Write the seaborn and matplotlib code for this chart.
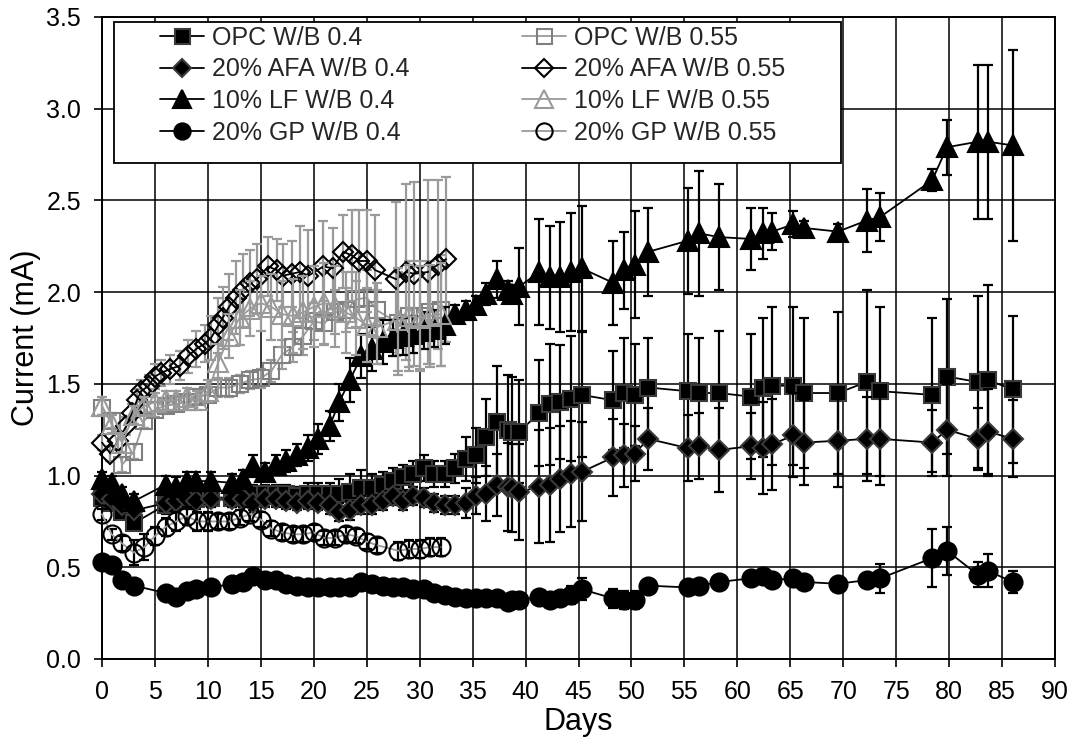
import numpy as np
import matplotlib
matplotlib.use("Agg")
import matplotlib.pyplot as plt
import seaborn as sns
from matplotlib.lines import Line2D
from matplotlib.patches import Rectangle

# ---------------- data ----------------
days_04 = [0.0, 0.9, 1.9, 3.0, 6.0, 7.0, 8.0, 8.9, 10.3, 12.3,
           13.3, 14.3, 15.4, 16.4, 17.4, 18.4, 19.5, 20.4, 21.5, 22.4,
           23.4, 24.5, 25.5, 26.5, 27.5, 28.4, 29.4, 30.4, 31.4, 32.4,
           33.3, 34.4, 35.3, 36.3, 37.3, 38.3, 38.7, 39.4, 41.3, 42.3,
           43.3, 44.3, 45.3, 48.3, 49.3, 50.3, 51.6, 55.3, 56.4, 58.3,
           61.3, 62.4, 63.3, 65.3, 66.3, 69.5, 72.2, 73.5, 78.4, 79.8,
           82.7, 83.7, 86.0]

opc_04 = [0.88, 0.85, 0.80, 0.74, 0.84, 0.86, 0.87, 0.87, 0.88, 0.88,
          0.89, 0.90, 0.90, 0.90, 0.90, 0.89, 0.90, 0.90, 0.90, 0.90,
          0.91, 0.93, 0.93, 0.95, 0.97, 0.99, 1.01, 1.04, 1.01, 1.01,
          1.04, 1.09, 1.11, 1.21, 1.29, 1.25, 1.24, 1.24, 1.34, 1.39,
          1.40, 1.42, 1.44, 1.41, 1.45, 1.44, 1.48, 1.46, 1.45, 1.45,
          1.43, 1.48, 1.49, 1.49, 1.45, 1.45, 1.51, 1.46, 1.44, 1.54,
          1.51, 1.52, 1.47]
opc_04_err = [0.03, 0.03, 0.03, 0.03, 0.05, 0.05, 0.05, 0.05, 0.05, 0.05,
              0.05, 0.05, 0.05, 0.05, 0.05, 0.05, 0.06, 0.06, 0.06, 0.08,
              0.10, 0.10, 0.08, 0.07, 0.07, 0.07, 0.07, 0.07, 0.07, 0.07,
              0.08, 0.12, 0.15, 0.21, 0.31, 0.30, 0.30, 0.28, 0.29, 0.33,
              0.31, 0.34, 0.34, 0.27, 0.30, 0.28, 0.27, 0.31, 0.30, 0.34,
              0.34, 0.38, 0.43, 0.43, 0.41, 0.44, 0.50, 0.46, 0.42, 0.42,
              0.47, 0.52, 0.40]

afa_04 = [0.90, 0.87, 0.84, 0.81, 0.85, 0.86, 0.87, 0.86, 0.87, 0.87,
          0.87, 0.85, 0.87, 0.87, 0.86, 0.85, 0.86, 0.85, 0.84, 0.80,
          0.81, 0.84, 0.84, 0.86, 0.89, 0.86, 0.89, 0.88, 0.85, 0.84,
          0.84, 0.85, 0.89, 0.90, 0.95, 0.94, 0.93, 0.91, 0.94, 0.95,
          0.98, 1.01, 1.02, 1.10, 1.11, 1.12, 1.20, 1.15, 1.16, 1.14,
          1.16, 1.15, 1.17, 1.22, 1.18, 1.19, 1.20, 1.20, 1.18, 1.25,
          1.20, 1.24, 1.20]
afa_04_err = [0.04, 0.04, 0.04, 0.04, 0.04, 0.04, 0.04, 0.04, 0.04, 0.04,
              0.04, 0.04, 0.04, 0.04, 0.04, 0.04, 0.04, 0.04, 0.05, 0.05,
              0.05, 0.05, 0.05, 0.05, 0.05, 0.05, 0.05, 0.05, 0.05, 0.05,
              0.05, 0.08, 0.10, 0.15, 0.17, 0.24, 0.24, 0.26, 0.31, 0.31,
              0.29, 0.29, 0.27, 0.21, 0.17, 0.15, 0.17, 0.18, 0.18, 0.23,
              0.18, 0.25, 0.25, 0.23, 0.23, 0.25, 0.23, 0.25, 0.18, 0.25,
              0.17, 0.23, 0.21]

lf_04 = [0.98, 0.96, 0.90, 0.86, 0.95, 0.94, 0.97, 0.97, 0.97, 0.96,
         0.98, 1.05, 1.02, 1.06, 1.08, 1.11, 1.15, 1.20, 1.27, 1.40,
         1.52, 1.65, 1.69, 1.73, 1.75, 1.76, 1.77, 1.79, 1.80, 1.82,
         1.88, 1.90, 1.93, 1.99, 2.07, 2.01, 1.99, 2.03, 2.11, 2.08,
         2.08, 2.11, 2.13, 2.05, 2.12, 2.15, 2.22, 2.28, 2.32, 2.30,
         2.29, 2.32, 2.33, 2.37, 2.35, 2.33, 2.39, 2.41, 2.61, 2.79,
         2.82, 2.82, 2.80]
lf_04_err = [0.04, 0.04, 0.04, 0.04, 0.05, 0.05, 0.05, 0.05, 0.05, 0.05,
             0.05, 0.06, 0.05, 0.05, 0.06, 0.06, 0.07, 0.08, 0.08, 0.10,
             0.12, 0.12, 0.12, 0.12, 0.10, 0.10, 0.10, 0.10, 0.10, 0.10,
             0.05, 0.05, 0.05, 0.06, 0.10, 0.05, 0.05, 0.21, 0.29, 0.28,
             0.30, 0.32, 0.34, 0.23, 0.21, 0.29, 0.24, 0.29, 0.34, 0.29,
             0.17, 0.14, 0.10, 0.07, 0.04, 0.04, 0.17, 0.13, 0.06, 0.15,
             0.42, 0.42, 0.52]

gp_04 = [0.53, 0.51, 0.43, 0.40, 0.36, 0.34, 0.37, 0.38, 0.39, 0.41,
         0.42, 0.45, 0.43, 0.43, 0.41, 0.40, 0.39, 0.39, 0.39, 0.39,
         0.39, 0.42, 0.41, 0.40, 0.39, 0.39, 0.38, 0.38, 0.36, 0.35,
         0.34, 0.33, 0.33, 0.33, 0.33, 0.31, 0.32, 0.32, 0.34, 0.32,
         0.33, 0.35, 0.38, 0.33, 0.32, 0.32, 0.40, 0.39, 0.40, 0.42,
         0.44, 0.45, 0.43, 0.44, 0.42, 0.41, 0.43, 0.44, 0.55, 0.59,
         0.46, 0.48, 0.42]
gp_04_err = [0.02, 0.02, 0.02, 0.02, 0.02, 0.02, 0.02, 0.02, 0.02, 0.02,
             0.02, 0.02, 0.02, 0.02, 0.02, 0.02, 0.02, 0.02, 0.02, 0.02,
             0.02, 0.03, 0.03, 0.03, 0.03, 0.03, 0.03, 0.03, 0.03, 0.03,
             0.03, 0.03, 0.03, 0.03, 0.03, 0.03, 0.03, 0.03, 0.03, 0.03,
             0.03, 0.05, 0.06, 0.05, 0.05, 0.05, 0.03, 0.03, 0.03, 0.03,
             0.04, 0.04, 0.04, 0.04, 0.03, 0.03, 0.04, 0.08, 0.16, 0.13,
             0.07, 0.09, 0.06]

days_055 = [0.0, 0.9, 1.9, 3.0, 4.0, 5.0, 6.0, 7.0, 8.0, 9.0,
            10.0, 11.0, 12.0, 13.0, 14.0, 15.0, 16.0, 17.0, 18.0, 19.0,
            20.0, 21.0, 22.0, 23.0, 24.0, 25.0, 26.0, 28.0, 29.0, 30.0,
            31.0, 32.0]

opc_055 = [1.37, 1.30, 1.06, 1.13, 1.30, 1.36, 1.38, 1.39, 1.40, 1.43,
           1.44, 1.48, 1.48, 1.50, 1.52, 1.53, 1.57, 1.66, 1.70, 1.76,
           1.84, 1.83, 1.89, 1.90, 1.96, 1.97, 1.90, 1.83, 1.87, 1.87,
           1.89, 1.90]
opc_055_err = [0.04, 0.04, 0.04, 0.04, 0.04, 0.04, 0.04, 0.04, 0.04, 0.04,
               0.04, 0.05, 0.05, 0.05, 0.05, 0.05, 0.06, 0.08, 0.08, 0.10,
               0.10, 0.12, 0.12, 0.12, 0.15, 0.15, 0.15, 0.28, 0.30, 0.30,
               0.28, 0.30]

lf_055 = [1.38, 1.28, 1.18, 1.33, 1.38, 1.40, 1.41, 1.41, 1.43, 1.41,
          1.46, 1.62, 1.76, 1.86, 1.91, 1.94, 1.92, 1.88, 1.87, 1.89,
          1.92, 1.94, 1.92, 1.89, 1.86, 1.82, 1.81, 1.85, 1.87, 1.86,
          1.87, 1.88]
lf_055_err = [0.05, 0.05, 0.05, 0.05, 0.05, 0.05, 0.05, 0.05, 0.05, 0.05,
              0.06, 0.10, 0.12, 0.15, 0.15, 0.15, 0.18, 0.18, 0.20, 0.20,
              0.22, 0.22, 0.22, 0.22, 0.20, 0.20, 0.20, 0.28, 0.28, 0.28,
              0.28, 0.28]

gp_055 = [0.79, 0.68, 0.63, 0.58, 0.61, 0.67, 0.72, 0.75, 0.78, 0.75,
          0.75, 0.75, 0.75, 0.77, 0.79, 0.76, 0.71, 0.69, 0.68, 0.68,
          0.69, 0.66, 0.66, 0.68, 0.67, 0.64, 0.62, 0.59, 0.60, 0.60,
          0.61, 0.61]
gp_055_err = [0.03, 0.03, 0.04, 0.07, 0.07, 0.05, 0.05, 0.05, 0.05, 0.05,
              0.05, 0.04, 0.04, 0.04, 0.04, 0.04, 0.04, 0.04, 0.04, 0.04,
              0.04, 0.04, 0.04, 0.04, 0.04, 0.04, 0.04, 0.05, 0.05, 0.05,
              0.05, 0.05]

days_afa055 = [0.0, 0.8, 1.5, 2.3, 2.8, 3.3, 3.7, 4.4, 5.0, 5.6,
               6.4, 7.4, 8.1, 8.9, 9.7, 10.3, 11.0, 11.4, 12.0, 12.7,
               13.3, 14.0, 14.6, 15.7, 16.5, 17.1, 17.9, 18.7, 19.5, 20.9,
               21.8, 22.8, 23.6, 24.3, 25.0, 25.8, 27.8, 28.7, 29.5, 30.8,
               31.7, 32.5]
afa_055 = [1.18, 1.12, 1.19, 1.27, 1.34, 1.41, 1.46, 1.49, 1.54, 1.56,
           1.58, 1.60, 1.65, 1.69, 1.72, 1.75, 1.82, 1.86, 1.92, 1.97,
           2.01, 2.05, 2.07, 2.14, 2.12, 2.09, 2.10, 2.11, 2.09, 2.14,
           2.13, 2.22, 2.20, 2.17, 2.17, 2.12, 2.07, 2.11, 2.10, 2.11,
           2.15, 2.18]
afa_055_err = [0.04, 0.04, 0.05, 0.05, 0.05, 0.06, 0.06, 0.06, 0.07, 0.07,
               0.08, 0.08, 0.09, 0.10, 0.10, 0.12, 0.15, 0.17, 0.18, 0.20,
               0.20, 0.18, 0.19, 0.16, 0.17, 0.17, 0.18, 0.25, 0.25, 0.25,
               0.22, 0.20, 0.25, 0.28, 0.28, 0.30, 0.42, 0.48, 0.50, 0.50,
               0.46, 0.45]

x_ticks = [0, 5, 10, 15, 20, 25, 30, 35, 40, 45, 50, 55, 60, 65, 70, 75, 80, 85, 90]
y_ticks = [0.0, 0.5, 1.0, 1.5, 2.0, 2.5, 3.0, 3.5]

# ---------------- styling ----------------
sns.set_theme(style="white")
plt.rcParams['font.family'] = ['Liberation Sans', 'DejaVu Sans']

GRAY_L = '#9a9a9a'
GRAY_M = '#808080'
EDGE_D = '#3a3a3a'

series = [
    dict(label="OPC W/B 0.4", x=days_04, y=opc_04, e=opc_04_err, marker='s', ms=12,
         mfc='black', mec=EDGE_D, lc='black', ec='black'),
    dict(label="OPC W/B 0.55", x=days_055, y=opc_055, e=opc_055_err, marker='s', ms=12,
         mfc='none', mec=GRAY_M, lc=GRAY_L, ec=GRAY_L),
    dict(label="20% AFA W/B 0.4", x=days_04, y=afa_04, e=afa_04_err, marker='D', ms=10.5,
         mfc='black', mec=EDGE_D, lc='black', ec='black'),
    dict(label="20% AFA W/B 0.55", x=days_afa055, y=afa_055, e=afa_055_err, marker='D', ms=10.5,
         mfc='none', mec='black', lc='black', ec=GRAY_L),
    dict(label="10% LF W/B 0.4", x=days_04, y=lf_04, e=lf_04_err, marker='^', ms=14,
         mfc='black', mec='black', lc='black', ec='black'),
    dict(label="10% LF W/B 0.55", x=days_055, y=lf_055, e=lf_055_err, marker='^', ms=14,
         mfc='none', mec=GRAY_L, lc=GRAY_L, ec=GRAY_L),
    dict(label="20% GP W/B 0.4", x=days_04, y=gp_04, e=gp_04_err, marker='o', ms=13,
         mfc='black', mec='black', lc='black', ec='black'),
    dict(label="20% GP W/B 0.55", x=days_055, y=gp_055, e=gp_055_err, marker='o', ms=13,
         mfc='none', mec='black', lc=GRAY_L, ec='black'),
]

fig = plt.figure(figsize=(10.78, 7.47), dpi=100)
ax = fig.add_axes([102 / 1078, 88 / 747, 953 / 1078, 642 / 747])

for i, s in enumerate(series):
    z = 3 + i * 0.1
    ax.errorbar(s['x'], s['y'], yerr=s['e'], fmt='none', ecolor=s['ec'],
                elinewidth=1.6, capsize=3.8, capthick=1.6, zorder=z, clip_on=False)
    sns.lineplot(x=np.array(s['x']), y=np.array(s['y']), ax=ax, sort=False,
                 estimator=None, legend=False, color=s['lc'], linewidth=1.3,
                 marker=s['marker'], markersize=s['ms'], markerfacecolor=s['mfc'],
                 markeredgecolor=s['mec'], markeredgewidth=1.5,
                 zorder=z + 0.05, clip_on=False)

ax.set_xlim(0, 90)
ax.set_ylim(0, 3.5)
ax.set_xticks(x_ticks)
ax.set_yticks(y_ticks)
ax.set_yticklabels([f"{v:.1f}" for v in y_ticks])
ax.grid(True, color='black', linewidth=1.1)
ax.set_axisbelow(True)
for sp in ax.spines.values():
    sp.set_color('black')
    sp.set_linewidth(1.4)
ax.tick_params(axis='both', which='major', direction='out', length=6, width=1.2,
               color='black', labelsize=18, pad=9, bottom=True, left=True,
               labelcolor='black')
ax.set_xlabel("Days", fontsize=22, color='black', labelpad=2)
ax.set_ylabel("Current (mA)", fontsize=22, color='black', labelpad=4)

# legend frame (pixel box 114-841 x 22-163)
x0 = (114 - 102) / 953
x1 = (841 - 102) / 953
y1 = (659 - 22) / 642
y0 = (659 - 163) / 642
ax.add_patch(Rectangle((x0, y0), x1 - x0, y1 - y0, transform=ax.transAxes,
                       facecolor='white', edgecolor='black', linewidth=1.3,
                       zorder=20, clip_on=False))


def handle(s):
    return Line2D([0], [0], color=s['lc'], linewidth=1.3, marker=s['marker'],
                  markersize=s['ms'] * 0.9, markerfacecolor=s['mfc'],
                  markeredgecolor=s['mec'], markeredgewidth=1.5)


col1 = [series[0], series[2], series[4], series[6]]
col2 = [series[1], series[3], series[5], series[7]]
leg_kw = dict(loc='upper left', frameon=False, borderpad=0, borderaxespad=0,
              handlelength=1.75, handletextpad=0.35, labelspacing=0.3,
              prop={'size': 18})
leg1 = ax.legend([handle(s) for s in col1], [s['label'] for s in col1],
                 bbox_to_anchor=((160 - 102) / 953, (659 - 26) / 642), **leg_kw)
leg1.set_zorder(21)
ax.add_artist(leg1)
leg2 = ax.legend([handle(s) for s in col2], [s['label'] for s in col2],
                 bbox_to_anchor=((522 - 102) / 953, (659 - 26) / 642), **leg_kw)
leg2.set_zorder(21)

fig.savefig("out.png", dpi=100, facecolor='white')
